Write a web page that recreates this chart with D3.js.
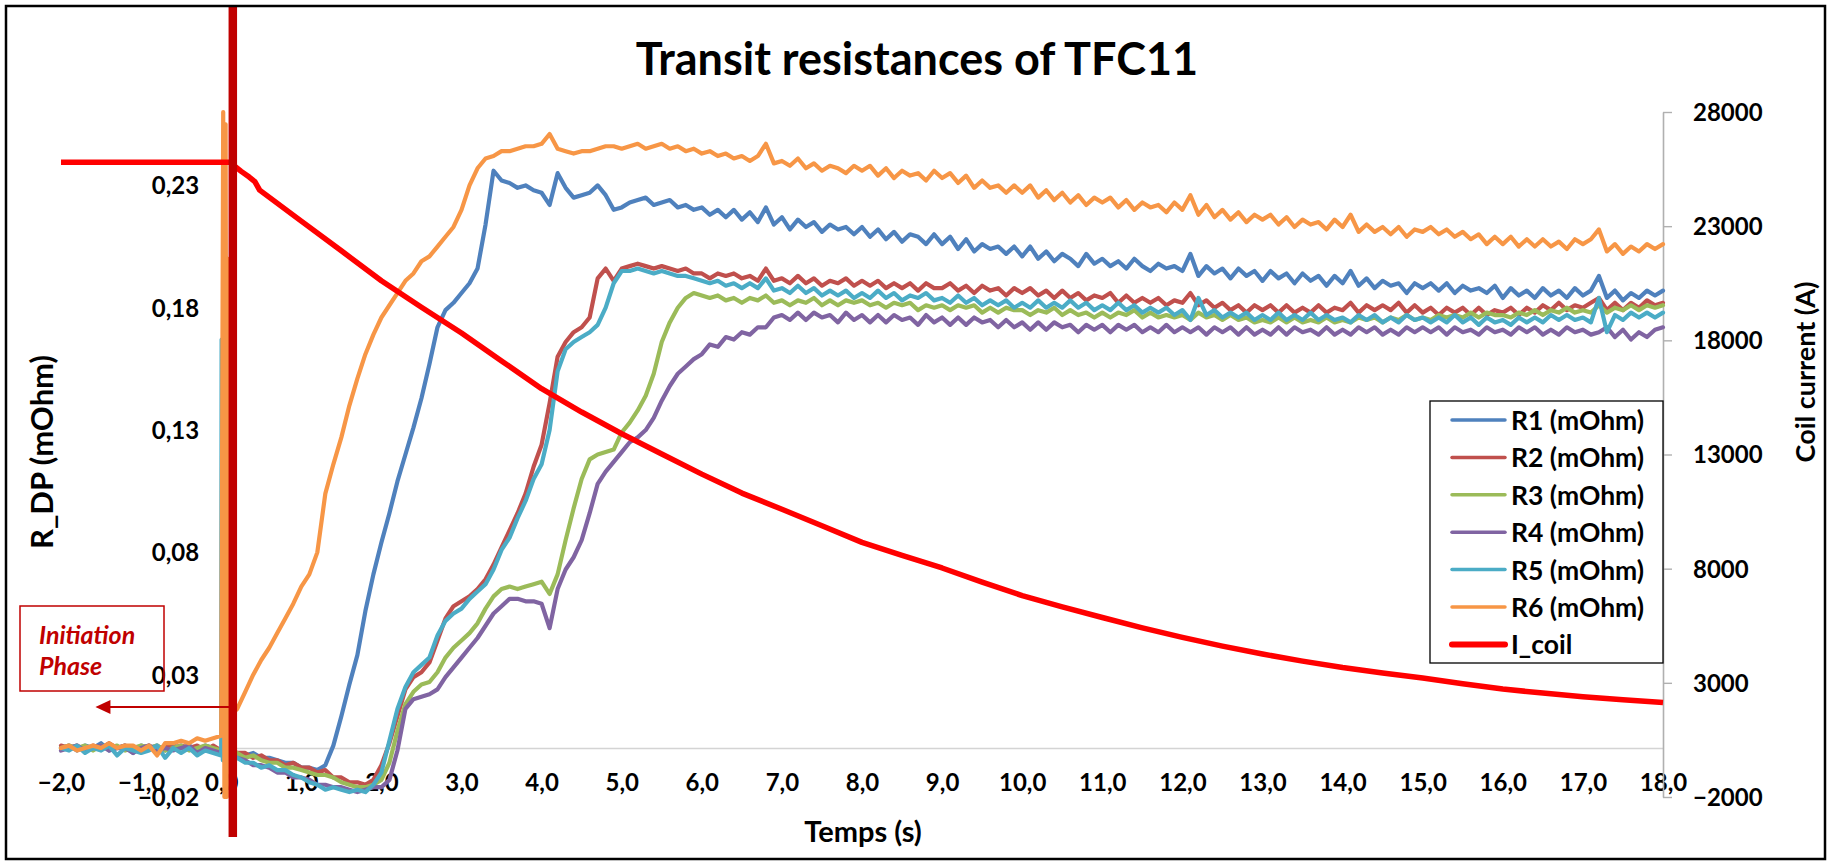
<!DOCTYPE html>
<html><head><meta charset="utf-8">
<script src="https://cdn.jsdelivr.net/npm/d3@7"></script>
<style>
html,body{margin:0;padding:0;background:#fff;}
svg{display:block;font-family:Lato,"Open Sans",sans-serif;}
</style></head><body>
<svg id="chart" width="1831" height="863"></svg>
<script>
// ---------- DATA ----------
// resistances sampled every 0.1 s from -2.0 s to 18.0 s (mOhm)
const T_START = -2.0, T_STEP = 0.1;

const r1 = [
0.000,0.001,-0.001,0.001,0.000,0.002,-0.001,0.000,0.001,-0.002,
0.001,0.000,0.001,-0.001,0.001,0.000,0.001,-0.001,0.001,0.000,
-0.001,-0.001,-0.002,-0.003,-0.002,-0.004,-0.004,-0.005,-0.006,-0.006,
-0.008,-0.008,-0.009,-0.007,0.001,0.013,0.026,0.038,0.056,0.071,
0.084,0.096,0.109,0.120,0.131,0.143,0.157,0.172,0.179,0.182,
0.186,0.190,0.196,0.214,0.236,0.232,0.231,0.229,0.230,0.228,
0.227,0.222,0.235,0.229,0.225,0.226,0.227,0.230,0.226,0.220,
0.221,0.223,0.224,0.225,0.222,0.223,0.224,0.221,0.222,0.220,
0.221,0.218,0.220,0.217,0.220,0.216,0.219,0.215,0.221,0.214,
0.217,0.212,0.216,0.213,0.215,0.211,0.214,0.212,0.213,0.210,
0.213,0.209,0.212,0.208,0.211,0.207,0.210,0.209,0.206,0.210,
0.206,0.209,0.204,0.208,0.203,0.206,0.204,0.205,0.202,0.205,
0.201,0.205,0.200,0.203,0.199,0.202,0.200,0.197,0.202,0.198,
0.200,0.197,0.199,0.196,0.200,0.197,0.195,0.198,0.196,0.197,
0.195,0.202,0.193,0.197,0.194,0.196,0.192,0.196,0.193,0.195,
0.191,0.195,0.192,0.194,0.190,0.194,0.191,0.193,0.189,0.193,
0.190,0.195,0.189,0.192,0.188,0.191,0.189,0.190,0.186,0.190,
0.188,0.190,0.187,0.190,0.186,0.189,0.187,0.188,0.186,0.189,
0.184,0.188,0.185,0.187,0.184,0.188,0.185,0.187,0.184,0.188,
0.185,0.187,0.193,0.184,0.187,0.183,0.186,0.184,0.187,0.185,
0.187];

const r2 = [
0.001,0.000,0.001,-0.001,0.001,0.000,0.002,0.000,0.001,-0.001,
0.000,0.001,-0.001,0.001,0.000,0.001,0.000,0.001,-0.001,0.001,
-0.001,-0.001,-0.002,-0.002,-0.004,-0.003,-0.005,-0.005,-0.007,-0.006,
-0.008,-0.008,-0.010,-0.009,-0.012,-0.012,-0.014,-0.014,-0.015,-0.013,
-0.007,0.002,0.013,0.024,0.029,0.031,0.035,0.044,0.053,0.058,
0.060,0.062,0.065,0.069,0.075,0.082,0.089,0.096,0.104,0.115,
0.124,0.141,0.160,0.166,0.170,0.172,0.176,0.192,0.196,0.191,
0.196,0.197,0.198,0.197,0.196,0.197,0.196,0.195,0.196,0.194,
0.194,0.192,0.194,0.193,0.194,0.192,0.193,0.191,0.196,0.191,
0.192,0.190,0.193,0.190,0.192,0.189,0.191,0.190,0.192,0.189,
0.191,0.189,0.191,0.188,0.190,0.188,0.190,0.187,0.190,0.188,
0.188,0.190,0.187,0.189,0.186,0.189,0.187,0.188,0.185,0.188,
0.186,0.188,0.185,0.187,0.184,0.187,0.184,0.186,0.183,0.185,
0.184,0.186,0.182,0.185,0.182,0.184,0.182,0.184,0.181,0.183,
0.182,0.186,0.181,0.183,0.180,0.182,0.179,0.181,0.178,0.181,
0.179,0.181,0.178,0.181,0.178,0.180,0.178,0.181,0.178,0.180,
0.179,0.182,0.178,0.181,0.179,0.181,0.179,0.182,0.178,0.181,
0.178,0.180,0.177,0.180,0.178,0.180,0.177,0.180,0.177,0.179,
0.178,0.180,0.177,0.180,0.178,0.181,0.179,0.182,0.179,0.181,
0.180,0.182,0.184,0.179,0.182,0.179,0.182,0.180,0.183,0.181,
0.182];

const r3 = [
0.000,0.001,0.000,0.001,-0.001,0.001,0.000,0.001,-0.001,0.000,
0.001,0.000,0.001,-0.001,0.000,0.001,-0.001,0.000,0.001,0.000,
-0.001,-0.002,-0.002,-0.004,-0.003,-0.005,-0.006,-0.006,-0.008,-0.008,
-0.009,-0.010,-0.011,-0.011,-0.012,-0.014,-0.015,-0.016,-0.016,-0.015,
-0.013,-0.006,0.007,0.018,0.023,0.026,0.027,0.031,0.037,0.041,
0.044,0.047,0.051,0.057,0.062,0.065,0.066,0.065,0.066,0.067,
0.068,0.063,0.071,0.085,0.098,0.110,0.118,0.120,0.121,0.122,
0.129,0.133,0.138,0.144,0.153,0.166,0.174,0.180,0.184,0.186,
0.185,0.184,0.185,0.183,0.184,0.182,0.184,0.183,0.185,0.182,
0.183,0.181,0.183,0.182,0.184,0.181,0.183,0.181,0.183,0.182,
0.183,0.181,0.182,0.180,0.182,0.181,0.182,0.179,0.181,0.180,
0.181,0.179,0.181,0.180,0.181,0.178,0.180,0.178,0.180,0.179,
0.179,0.177,0.179,0.178,0.180,0.177,0.179,0.177,0.178,0.176,
0.178,0.176,0.178,0.177,0.179,0.176,0.178,0.176,0.177,0.176,
0.177,0.175,0.178,0.176,0.177,0.175,0.177,0.175,0.176,0.174,
0.175,0.174,0.176,0.174,0.176,0.174,0.175,0.174,0.176,0.174,
0.175,0.174,0.176,0.175,0.176,0.174,0.176,0.175,0.177,0.175,
0.176,0.175,0.177,0.176,0.177,0.176,0.178,0.176,0.178,0.177,
0.177,0.176,0.178,0.177,0.179,0.177,0.179,0.178,0.180,0.178,
0.179,0.178,0.181,0.178,0.180,0.179,0.181,0.179,0.181,0.180,
0.181];

const r4 = [
-0.001,0.000,0.001,-0.001,0.000,0.001,-0.001,0.000,0.000,-0.002,
0.000,0.001,-0.001,0.000,-0.001,0.000,0.001,-0.002,0.000,-0.001,
-0.002,-0.002,-0.004,-0.005,-0.007,-0.007,-0.008,-0.010,-0.010,-0.012,
-0.012,-0.013,-0.015,-0.015,-0.016,-0.016,-0.017,-0.018,-0.017,-0.016,
-0.016,-0.013,-0.001,0.016,0.020,0.021,0.022,0.024,0.029,0.033,
0.037,0.041,0.045,0.050,0.055,0.058,0.061,0.061,0.060,0.060,
0.059,0.049,0.065,0.073,0.078,0.085,0.096,0.108,0.113,0.117,
0.121,0.125,0.127,0.130,0.135,0.142,0.148,0.153,0.156,0.159,
0.161,0.165,0.164,0.168,0.167,0.170,0.169,0.172,0.172,0.176,
0.177,0.175,0.178,0.175,0.178,0.176,0.177,0.174,0.178,0.175,
0.177,0.174,0.177,0.174,0.177,0.175,0.176,0.173,0.177,0.174,
0.176,0.173,0.176,0.173,0.176,0.174,0.175,0.172,0.175,0.172,
0.174,0.171,0.174,0.171,0.174,0.172,0.173,0.170,0.173,0.171,
0.173,0.170,0.173,0.171,0.173,0.170,0.172,0.170,0.173,0.170,
0.172,0.170,0.172,0.169,0.172,0.170,0.172,0.169,0.172,0.169,
0.171,0.169,0.172,0.169,0.172,0.170,0.171,0.169,0.172,0.169,
0.171,0.169,0.172,0.170,0.172,0.169,0.171,0.169,0.172,0.170,
0.172,0.170,0.172,0.169,0.172,0.170,0.171,0.169,0.172,0.170,
0.171,0.169,0.172,0.170,0.172,0.169,0.171,0.169,0.172,0.170,
0.171,0.169,0.170,0.172,0.168,0.171,0.167,0.170,0.168,0.171,
0.172];

const r5 = [
0.000,-0.001,0.001,-0.002,0.000,-0.001,0.001,-0.003,0.000,-0.001,
-0.002,-0.001,0.001,-0.004,0.000,-0.002,0.000,-0.003,-0.001,-0.002,
-0.003,-0.003,-0.004,-0.006,-0.006,-0.008,-0.007,-0.009,-0.009,-0.011,
-0.012,-0.014,-0.015,-0.017,-0.016,-0.017,-0.018,-0.017,-0.018,-0.015,
-0.010,0.003,0.016,0.025,0.031,0.034,0.037,0.046,0.052,0.055,
0.057,0.061,0.064,0.067,0.073,0.081,0.086,0.094,0.101,0.110,
0.116,0.130,0.154,0.163,0.166,0.168,0.170,0.173,0.180,0.190,
0.195,0.195,0.196,0.195,0.194,0.195,0.194,0.193,0.193,0.192,
0.191,0.190,0.191,0.189,0.190,0.188,0.190,0.188,0.192,0.187,
0.188,0.186,0.189,0.186,0.188,0.185,0.187,0.185,0.187,0.184,
0.186,0.184,0.187,0.184,0.186,0.183,0.185,0.184,0.186,0.183,
0.184,0.182,0.185,0.182,0.184,0.181,0.183,0.181,0.183,0.180,
0.182,0.180,0.183,0.180,0.182,0.180,0.183,0.180,0.182,0.179,
0.181,0.179,0.182,0.179,0.181,0.178,0.180,0.178,0.180,0.177,
0.179,0.175,0.184,0.177,0.179,0.176,0.178,0.176,0.178,0.175,
0.177,0.175,0.178,0.175,0.177,0.175,0.178,0.175,0.177,0.175,
0.176,0.174,0.177,0.175,0.177,0.174,0.176,0.174,0.177,0.175,
0.176,0.174,0.176,0.174,0.177,0.174,0.176,0.173,0.176,0.174,
0.175,0.173,0.176,0.174,0.176,0.174,0.177,0.175,0.177,0.175,
0.176,0.174,0.184,0.170,0.177,0.175,0.178,0.176,0.178,0.176,
0.178];

const r6 = [
0.000,0.001,-0.001,0.000,0.001,0.000,0.002,0.000,0.001,0.001,
-0.001,0.001,-0.003,0.002,0.002,0.003,0.002,0.004,0.003,0.004,
0.005,0.013,0.016,0.023,0.030,0.036,0.041,0.047,0.053,0.059,
0.066,0.071,0.080,0.104,0.116,0.127,0.140,0.151,0.161,0.169,
0.176,0.181,0.186,0.191,0.194,0.199,0.201,0.205,0.209,0.213,
0.220,0.230,0.237,0.241,0.242,0.244,0.244,0.245,0.246,0.246,
0.247,0.251,0.245,0.244,0.243,0.244,0.244,0.245,0.246,0.246,
0.245,0.246,0.247,0.245,0.246,0.247,0.245,0.246,0.244,0.245,
0.243,0.244,0.242,0.243,0.241,0.242,0.240,0.242,0.247,0.239,
0.240,0.238,0.241,0.237,0.239,0.236,0.238,0.237,0.235,0.238,
0.236,0.238,0.234,0.237,0.233,0.236,0.234,0.235,0.232,0.236,
0.233,0.235,0.231,0.234,0.229,0.232,0.229,0.230,0.227,0.230,
0.227,0.230,0.225,0.228,0.224,0.227,0.223,0.226,0.222,0.225,
0.223,0.225,0.221,0.224,0.220,0.223,0.221,0.222,0.219,0.223,
0.220,0.226,0.218,0.222,0.217,0.220,0.216,0.219,0.215,0.218,
0.216,0.218,0.214,0.217,0.213,0.216,0.214,0.215,0.212,0.216,
0.213,0.218,0.211,0.214,0.211,0.213,0.210,0.213,0.209,0.212,
0.211,0.213,0.210,0.212,0.209,0.211,0.208,0.210,0.206,0.209,
0.206,0.209,0.205,0.208,0.205,0.208,0.205,0.207,0.204,0.208,
0.206,0.208,0.212,0.203,0.206,0.202,0.205,0.203,0.206,0.204,
0.206];

// fast transients at the initiation instant: [time (s), mOhm]
const r5Spike = [[0.005, 0.167], [0.012, 0.086], [0.02, -0.005]];
const r6Spike = [[0.025, 0.260], [0.04, -0.020], [0.055, 0.255], [0.07, -0.020], [0.085, 0.200], [0.095, 0.012]];

// coil current (A)
const coilT = [-2.0, 0.12, 0.16, 0.25, 0.35, 0.42, 0.48, 1.0, 1.5, 2.0, 2.5, 3.0, 3.5, 4.0, 4.5, 5.0, 5.5, 6.0, 6.5, 7.0, 7.5, 8.0, 8.5, 9.0, 9.5, 10.0, 10.5, 11.0, 11.5, 12.0, 12.5, 13.0, 13.5, 14.0, 14.5, 15.0, 15.5, 16.0, 16.5, 17.0, 17.5, 18.0];
const coilI = [25800, 25800, 25650, 25400, 25150, 24950, 24580, 23220, 21920, 20610, 19450, 18320, 17100, 15880, 14860, 13910, 13020, 12140, 11310, 10600, 9880, 9150, 8580, 8030, 7410, 6820, 6330, 5860, 5410, 4990, 4610, 4260, 3950, 3670, 3430, 3210, 2960, 2730, 2550, 2390, 2260, 2140];

const seriesNames = ["R1 (mOhm)", "R2 (mOhm)", "R3 (mOhm)", "R4 (mOhm)", "R5 (mOhm)", "R6 (mOhm)", "I_coil"];
const seriesColors = ["#4F81BD", "#C0504D", "#9BBB59", "#8064A2", "#4BACC6", "#F79646", "#FF0000"];

const xTicks = [-2, -1, 0, 1, 2, 3, 4, 5, 6, 7, 8, 9, 10, 11, 12, 13, 14, 15, 16, 17, 18];
const leftTicks = [-0.02, 0.03, 0.08, 0.13, 0.18, 0.23];
const rightTicks = [-2000, 3000, 8000, 13000, 18000, 23000, 28000];

const initiationT = 0.145;      // time of the initiation marker (s)
const initiationV = 0.0168;     // level of the arrow (mOhm)
const arrowTipT = -1.57;

// ---------- CHART ----------
const svg = d3.select("#chart");
const W = 1831, H = 863;
const P = {left: 61, right: 1663, top: 112, bottom: 797};

const x = d3.scaleLinear().domain([-2, 18]).range([P.left, P.right]);
const yL = d3.scaleLinear().domain([-0.02, 0.26]).range([P.bottom, P.top]);
const yR = d3.scaleLinear().domain([-2000, 28000]).range([P.bottom, P.top]);

svg.append("rect").attr("x", 0).attr("y", 0).attr("width", W).attr("height", H).attr("fill", "#fff");

const commaFmt = d => d3.format(".1f")(d).replace(".", ",");
const commaFmt2 = d => d3.format(".2f")(d).replace(".", ",");

// x axis (at R = 0)
const gx = svg.append("g").attr("transform", `translate(0,${yL(0)})`)
  .call(d3.axisBottom(x).tickValues(xTicks).tickFormat(commaFmt).tickSize(0).tickSizeOuter(0));
gx.select(".domain").attr("stroke", "#D4D4D4").attr("stroke-width", 1.6);
gx.selectAll("text").attr("y", 35).attr("dy", "0.35em")
  .attr("font-size", 24).attr("font-weight", 700).attr("fill", "#000").attr("font-family", "Lato");

// left axis (at t = 0)
const gl = svg.append("g").attr("transform", `translate(${x(0)},0)`)
  .call(d3.axisLeft(yL).tickValues(leftTicks).tickFormat(commaFmt2).tickSize(0));
gl.select(".domain").remove();
gl.selectAll("text").attr("x", -22).attr("dy", "0.35em")
  .attr("font-size", 24).attr("font-weight", 700).attr("fill", "#000").attr("font-family", "Lato");

// right axis
const gr = svg.append("g").attr("transform", `translate(${P.right},0)`)
  .call(d3.axisRight(yR).tickValues(rightTicks).tickFormat(d3.format("d")).tickSize(9).tickSizeOuter(0));
gr.select(".domain").attr("stroke", "#B0B0B0").attr("stroke-width", 1.6);
gr.selectAll(".tick line").attr("stroke", "#B0B0B0").attr("stroke-width", 1.4);
gr.selectAll("text").attr("x", 30).attr("dy", "0.35em")
  .attr("font-size", 24).attr("font-weight", 700).attr("fill", "#000").attr("font-family", "Lato");

// series
const rSeries = [r1, r2, r3, r4, r5, r6];
const spikes = [[], [], [], [], r5Spike, r6Spike];
const line = d3.line().x(d => x(d[0])).y(d => yL(d[1]));
rSeries.forEach((vals, i) => {
  let pts = vals.map((v, k) => [T_START + k * T_STEP, v]).concat(spikes[i]);
  pts.sort((a, b) => a[0] - b[0]);
  svg.append("path").datum(pts).attr("d", line)
    .attr("fill", "none").attr("stroke", seriesColors[i]).attr("stroke-width", 4.2)
    .attr("stroke-linejoin", "round").attr("stroke-linecap", "round");
});
const coilPts = coilT.map((t, k) => [t, coilI[k]]);
svg.append("path").datum(coilPts)
  .attr("d", d3.line().x(d => x(d[0])).y(d => yR(d[1])))
  .attr("fill", "none").attr("stroke", seriesColors[6]).attr("stroke-width", 5.5)
  .attr("stroke-linejoin", "round");

// title + axis titles
svg.append("text").attr("x", 917).attr("y", 75).attr("text-anchor", "middle")
  .attr("font-size", 45).attr("font-weight", 700).text("Transit resistances of TFC11");
svg.append("text").attr("transform", "translate(41,452) rotate(-90)").attr("text-anchor", "middle")
  .attr("dominant-baseline", "central").attr("font-size", 31).attr("font-weight", 700).text("R_DP (mOhm)");
svg.append("text").attr("transform", "translate(1804,372) rotate(-90)").attr("text-anchor", "middle")
  .attr("dominant-baseline", "central").attr("font-size", 27).attr("font-weight", 700).text("Coil current (A)");
svg.append("text").attr("x", 863).attr("y", 830).attr("text-anchor", "middle")
  .attr("dominant-baseline", "central").attr("font-size", 29).attr("font-weight", 700).text("Temps (s)");

// legend
const lg = svg.append("g");
lg.append("rect").attr("x", 1430).attr("y", 401).attr("width", 233).attr("height", 262)
  .attr("fill", "#fff").attr("stroke", "#000").attr("stroke-width", 1.3);
seriesNames.forEach((n, i) => {
  const yy = 420 + i * 37.4;
  lg.append("line").attr("x1", 1452).attr("x2", 1505).attr("y1", yy).attr("y2", yy)
    .attr("stroke", seriesColors[i]).attr("stroke-width", i === 6 ? 6 : 3.5).attr("stroke-linecap", "round");
  lg.append("text").attr("x", 1511).attr("y", yy).attr("dominant-baseline", "central")
    .attr("font-size", 26.5).attr("font-weight", 700).text(n);
});

// initiation annotation
const dark = "#C00000";
svg.append("rect").attr("x", 20).attr("y", 606).attr("width", 144).attr("height", 85)
  .attr("fill", "none").attr("stroke", dark).attr("stroke-width", 1.5);
svg.append("text").attr("x", 39).attr("y", 634).attr("dominant-baseline", "central")
  .attr("font-size", 25).attr("font-weight", 700).attr("font-style", "italic").attr("fill", dark).text("Initiation");
svg.append("text").attr("x", 39).attr("y", 665).attr("dominant-baseline", "central")
  .attr("font-size", 25).attr("font-weight", 700).attr("font-style", "italic").attr("fill", dark).text("Phase");
const ay = yL(initiationV);
svg.append("line").attr("x1", x(initiationT)).attr("x2", x(arrowTipT) + 14).attr("y1", ay).attr("y2", ay)
  .attr("stroke", dark).attr("stroke-width", 2);
svg.append("path").attr("d", `M${x(arrowTipT)},${ay} L${x(arrowTipT) + 15},${ay - 7} L${x(arrowTipT) + 15},${ay + 7} Z`)
  .attr("fill", dark);
svg.append("line").attr("x1", x(initiationT)).attr("x2", x(initiationT)).attr("y1", 6).attr("y2", 837)
  .attr("stroke", dark).attr("stroke-width", 8.5);

// outer border
svg.append("rect").attr("x", 6).attr("y", 6).attr("width", 1819).attr("height", 853)
  .attr("fill", "none").attr("stroke", "#000").attr("stroke-width", 2.5);
</script>
</body></html>
